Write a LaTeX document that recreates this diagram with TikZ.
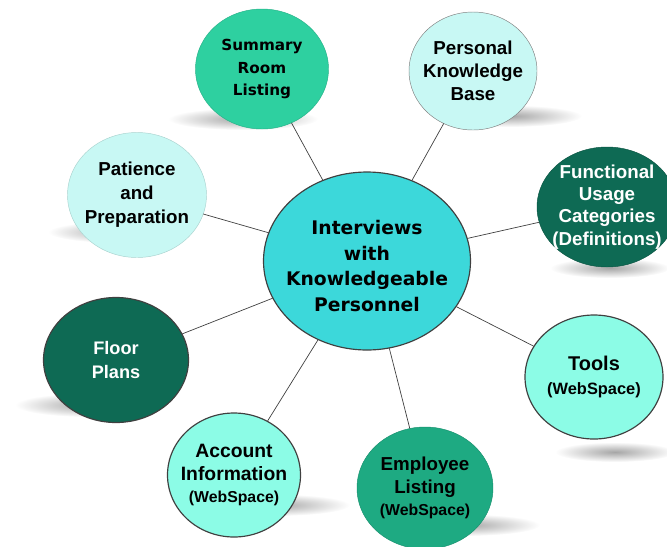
\documentclass[tikz,border=0pt]{standalone}
\usepackage{fontspec}
\setmainfont{Liberation Sans}
\newfontfamily\verdana{DejaVu Sans}
\usetikzlibrary{shapes.geometric}
\definecolor{xanhngoc}{RGB}{46,208,160}
\definecolor{xanhnhat}{RGB}{200,248,244}
\definecolor{xanhdam}{RGB}{14,106,84}
\definecolor{xanhtam}{RGB}{60,216,218}
\definecolor{xanhbien}{RGB}{140,252,230}
\definecolor{xanhla}{RGB}{30,170,130}
\tikzset{
	nut/.style={ellipse, inner sep=-8pt, align=center,
		font=\bfseries\fontsize{16}{19}\selectfont},
	vien/.style={draw=black!75, line width=1pt},
	noi/.style={gray!50!black, line width=.6pt}
}
\begin{document}
\begin{tikzpicture}[x=.03cm, y=-.03cm, line join = round, line cap = round]
	\useasboundingbox (0,0) rectangle (667,546);
	\clip (0,0) rectangle (667,546);
	%Vẽ bóng
	\foreach \x/\y/\a/\b in {243/119/75/11, 510/116/72/11, 610/268/60/10,
		120/232/72/11, 90/405/75/12, 275/505/75/11, 465/525/75/11, 615/452/60/10}
	\shade[inner color=gray!70, outer color=white] (\x,\y) ellipse (\a*.03cm and \b*.03cm);
	%Vẽ các nút
	\node[nut, vien, fill=xanhtam, minimum width=207*.03cm, minimum height=178*.03cm,
		label={[align=center, yshift=-.15cm,
			font=\verdana\bfseries\fontsize{16}{22}\selectfont]center:Interviews\\with\\Knowledgeable\\Personnel}]
		(tam) at (367,261) {};
	\node[nut, fill=xanhngoc, draw=xanhngoc!85!black, minimum width=133*.03cm, minimum height=120*.03cm,
		font=\verdana\bfseries\fontsize{13}{19.5}\selectfont] (tomtat) at (262,69)
		{Summary\\Room\\Listing};
	\node[nut, fill=xanhnhat, draw=black!50, minimum width=128*.03cm, minimum height=118*.03cm,
		font=\bfseries\fontsize{16}{19.5}\selectfont] (canhan) at (473,71)
		{Personal\\Knowledge\\Base};
	\node[nut, fill=xanhdam, draw=xanhdam!80!black, text=white, minimum width=140*.03cm,
		minimum height=120*.03cm] (chucnang) at (607,207)
		{Functional\\Usage\\Categories\\(Definitions)};
	\node[nut, fill=xanhnhat, draw=xanhnhat!85!black, minimum width=139*.03cm, minimum height=125*.03cm,
		font=\bfseries\fontsize{16}{20.5}\selectfont] (kiennhan) at (137,195)
		{Patience\\and\\Preparation};
	\node[nut, vien, fill=xanhdam, text=white, minimum width=145*.03cm, minimum height=125*.03cm,
		font=\bfseries\fontsize{15.5}{21}\selectfont] (mattang) at (116,360)
		{Floor\\Plans};
	\node[nut, vien, fill=xanhbien, minimum width=133*.03cm, minimum height=124*.03cm,
		font=\bfseries\fontsize{16.5}{19}\selectfont] (taikhoan) at (234,475)
		{Account\\Information\\{\fontsize{13.5}{19}\selectfont(WebSpace)}};
	\node[nut, fill=xanhla, draw=xanhla!85!black, minimum width=136*.03cm, minimum height=122*.03cm] (nhanvien) at (425,488)
		{Employee\\Listing\\{\fontsize{13.5}{19}\selectfont(WebSpace)}};
	\node[nut, vien, fill=xanhbien, minimum width=138*.03cm, minimum height=124*.03cm,
		font=\bfseries\fontsize{17}{21}\selectfont] (congcu) at (594,377)
		{Tools\\{\fontsize{14}{19}\selectfont(WebSpace)}};
	%Vẽ các đường nối
	\foreach \n in {tomtat, canhan, chucnang, kiennhan, mattang, taikhoan, nhanvien, congcu}
	\draw[noi] (tam) -- (\n);
\end{tikzpicture}
\end{document}
